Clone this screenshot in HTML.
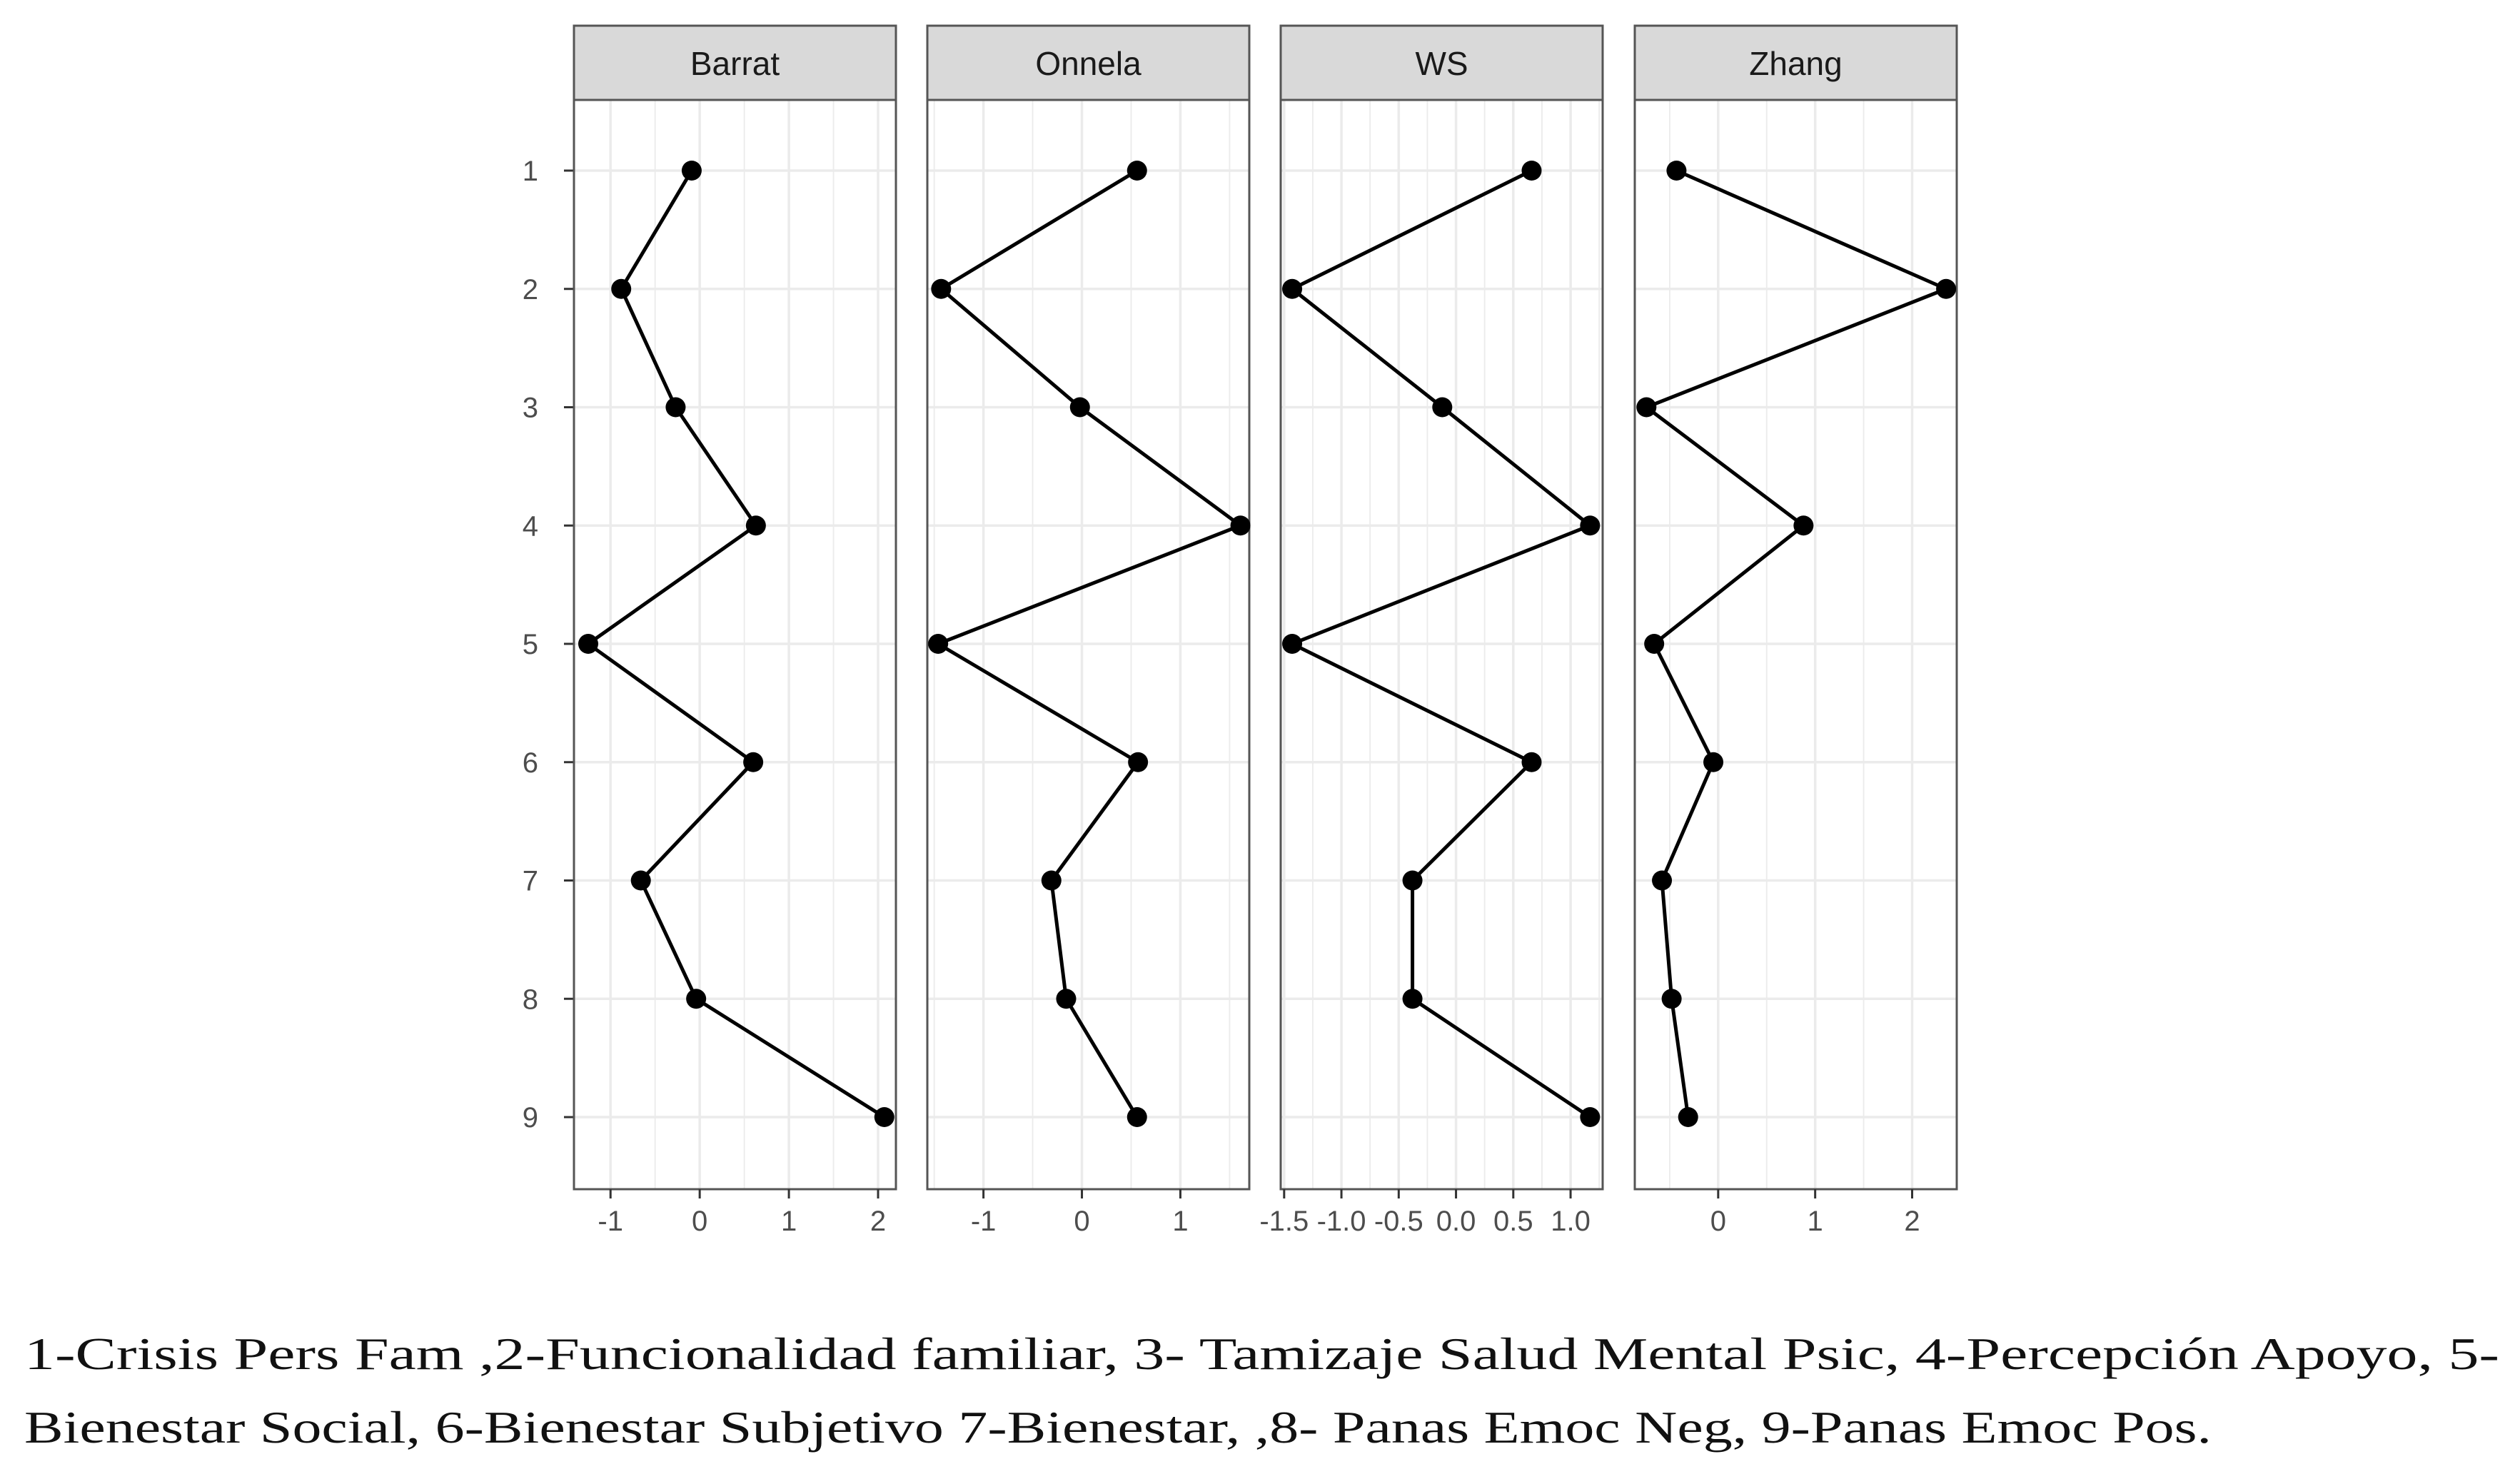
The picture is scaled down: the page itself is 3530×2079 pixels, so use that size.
<!DOCTYPE html>
<html><head><meta charset="utf-8"><style>
html,body{margin:0;padding:0;background:#fff;}
svg{display:block;}
</style></head><body>
<svg id="chart" width="3530" height="2079" viewBox="0 0 3530 2079" xmlns="http://www.w3.org/2000/svg">
<rect width="3530" height="2079" fill="#fff"/>
<g id="plots"></g>
<text x="34" y="1918" font-family="Liberation Serif, serif" font-size="64" fill="#111" textLength="3467" lengthAdjust="spacingAndGlyphs">1-Crisis Pers Fam ,2-Funcionalidad familiar, 3- Tamizaje Salud Mental Psic, 4-Percepción Apoyo, 5-</text>
<text x="34" y="2021" font-family="Liberation Serif, serif" font-size="64" fill="#111" textLength="3064" lengthAdjust="spacingAndGlyphs">Bienestar Social, 6-Bienestar Subjetivo 7-Bienestar, ,8- Panas Emoc Neg, 9-Panas Emoc Pos.</text>
</svg>
<script>
const categories = [1,2,3,4,5,6,7,8,9];
const panelNames = ["Barrat","Onnela","WS","Zhang"];
const barratValues = [-0.09,-0.88,-0.27,0.63,-1.25,0.60,-0.66,-0.04,2.07];
const onnelaValues = [0.56,-1.43,-0.02,1.61,-1.46,0.57,-0.31,-0.16,0.56];
const wsValues = [0.66,-1.43,-0.12,1.17,-1.43,0.66,-0.38,-0.38,1.17];
const zhangValues = [-0.43,2.35,-0.74,0.88,-0.66,-0.05,-0.58,-0.48,-0.31];
const barratTicks = [-1,0,1,2];
const onnelaTicks = [-1,0,1];
const wsTicks = [-1.5,-1.0,-0.5,0.0,0.5,1.0];
const wsTickLabels = ["-1.5","-1.0","-0.5","0.0","0.5","1.0"];
const zhangTicks = [0,1,2];
const domains = [[-1.41,2.20],[-1.57,1.70],[-1.53,1.28],[-0.86,2.46]];

const NS = "http://www.w3.org/2000/svg";
const g = document.getElementById("plots");
const panelX = [804,1299,1794,2290];
const panelW = 451;
const headTop = 36, plotTop = 140, plotBot = 1666;
const rowY0 = 239, rowY9 = 1565;
function yScale(c){ return rowY0 + (c-1)*(rowY9-rowY0)/8; }
function mk(tag, attrs, parent){
  const e = document.createElementNS(NS, tag);
  for (const k in attrs) e.setAttribute(k, attrs[k]);
  (parent||g).appendChild(e);
  return e;
}
const series = [barratValues,onnelaValues,wsValues,zhangValues];
const ticks = [barratTicks,onnelaTicks,wsTicks,zhangTicks];
const tickLabels = [barratTicks.map(String),onnelaTicks.map(String),wsTickLabels,zhangTicks.map(String)];
const minorStep = [0.5,0.5,0.25,0.5];

categories.forEach(c=>{
  const t = mk("text",{x:754,y:yScale(c)+14,"text-anchor":"end","font-family":"Liberation Sans, sans-serif","font-size":40,fill:"#4d4d4d"});
  
  
  t.textContent = c;
  const tk = mk("line",{x1:790,x2:804,y1:yScale(c),y2:yScale(c),stroke:"#333","stroke-width":3});
  
  
});

panelNames.forEach((name,i)=>{
  const x0 = panelX[i], x1 = x0+panelW;
  const [d0,d1] = domains[i];
  const xs = v => x0 + (v-d0)/(d1-d0)*panelW;
  const pg = mk("g",{});
  
  
  const st = minorStep[i];
  for (let v = Math.ceil(d0/st)*st; v <= d1; v += st){
    const isMajor = ticks[i].some(t=>Math.abs(t-v)<1e-6);
    mk("line",{x1:xs(v),x2:xs(v),y1:plotTop,y2:plotBot,stroke:"#ebebeb","stroke-width":isMajor?3.5:1.8},pg);
  }
  categories.forEach(c=>{
    mk("line",{x1:x0,x2:x1,y1:yScale(c),y2:yScale(c),stroke:"#ebebeb","stroke-width":3.5},pg);
  });
  const border = mk("rect",{x:x0,y:plotTop,width:panelW,height:plotBot-plotTop,fill:"none",stroke:"#555","stroke-width":3},pg);
  
  
  const hd = mk("rect",{x:x0,y:headTop,width:panelW,height:plotTop-headTop,fill:"#d9d9d9",stroke:"#555","stroke-width":3},pg);
  
  
  const ht = mk("text",{x:x0+panelW/2,y:105,"text-anchor":"middle","font-family":"Liberation Sans, sans-serif","font-size":46,fill:"#1a1a1a"},pg);
  
  
  ht.textContent = name;
  ticks[i].forEach((v,k)=>{
    const tk = mk("line",{x1:xs(v),x2:xs(v),y1:plotBot,y2:plotBot+13,stroke:"#333","stroke-width":3},pg);
    
    
    const tl = mk("text",{x:xs(v),y:1724,"text-anchor":"middle","font-family":"Liberation Sans, sans-serif","font-size":40,fill:"#4d4d4d"},pg);
    
    
    tl.textContent = tickLabels[i][k];
  });
  const pts = series[i].map((v,k)=>xs(v)+","+yScale(categories[k])).join(" ");
  const pl = mk("polyline",{points:pts,fill:"none",stroke:"#000","stroke-width":5,"stroke-linejoin":"round"},pg);
  
  
  series[i].forEach((v,k)=>{
    const c = mk("circle",{cx:xs(v),cy:yScale(categories[k]),r:14,fill:"#000"},pg);
    
    
  });
});
</script>
</body></html>
